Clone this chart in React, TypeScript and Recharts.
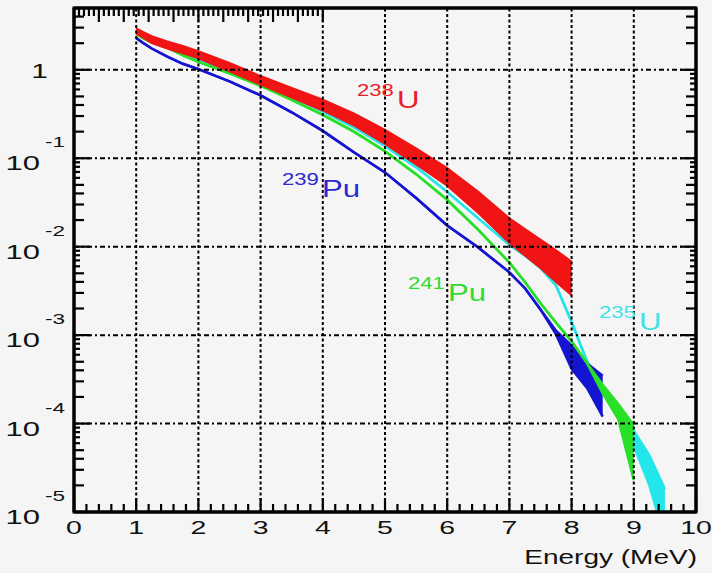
import { Area, ComposedChart, ReferenceLine, XAxis, YAxis } from "recharts";

const WIDTH = 712;
const HEIGHT = 573;
const PLOT_LEFT = 74;
const PLOT_TOP = 8;
const PLOT_RIGHT = 696;
const PLOT_BOTTOM = 512;
const FONT = '"Liberation Sans", Arial, Helvetica, sans-serif';

const RED = "#f01414";
const BLUE = "#1414d2";
const GREEN = "#28e028";
const CYAN = "#22e6ea";

// energy grid (MeV) shared by every spectrum
const ENERGY = [
  1.0, 1.1, 1.25, 1.5, 1.75, 2.0, 2.5, 3.0, 3.5, 4.0, 4.5, 5.0, 5.5, 6.0, 6.5,
  7.0, 7.25, 7.5, 7.75, 8.0, 8.25, 8.5, 8.75, 9.0, 9.25, 9.5
];

// 238U: thick band, upper / lower edge
const U238_HIGH = [
  2.95, 2.7, 2.4, 2.09, 1.86, 1.62, 1.2, 0.85, 0.625, 0.46, 0.322, 0.21,
  0.129, 0.0776, 0.0417, 0.0209, 0.0158, 0.012, 0.00912, 0.00676,
  null, null, null, null, null, null
];
const U238_LOW = [
  2.57, 2.34, 2.0, 1.74, 1.54, 1.35, 0.96, 0.68, 0.485, 0.347, 0.236, 0.145,
  0.0851, 0.049, 0.024, 0.011, 0.00794, 0.00575, 0.00398, 0.00282,
  null, null, null, null, null, null
];

// 235U
const U235_HIGH = [
  2.63, 2.34, 2.09, 1.82, 1.51, 1.29, 0.955, 0.692, 0.49, 0.339, 0.224, 0.138,
  0.0794, 0.0417, 0.0209, 0.0105, 0.00794, 0.00575, 0.00363, 0.00141,
  5.01e-4, 2.51e-4, 1.41e-4, 8.32e-5, 4.37e-5, 1.82e-5
];
const U235_LOW = [
  2.63, 2.34, 2.09, 1.82, 1.51, 1.29, 0.955, 0.692, 0.49, 0.339, 0.224, 0.138,
  0.0794, 0.0417, 0.0209, 0.0105, 0.00794, 0.00575, 0.00363, 0.00141,
  5.01e-4, 2.51e-4, 1.41e-4, 5.62e-5, 2.0e-5, 5.0e-6
];

// 241Pu
const PU241_HIGH = [
  2.57, 2.29, 2.04, 1.78, 1.46, 1.23, 0.912, 0.661, 0.457, 0.309, 0.2, 0.12,
  0.0661, 0.0339, 0.0155, 0.00661, 0.00398, 0.00229, 0.00138, 8.51e-4,
  4.79e-4, 2.75e-4, 1.66e-4, 9.55e-5, null, null
];
const PU241_LOW = [
  2.57, 2.29, 2.04, 1.78, 1.46, 1.23, 0.912, 0.661, 0.457, 0.309, 0.2, 0.12,
  0.0661, 0.0339, 0.0155, 0.00661, 0.00398, 0.00229, 0.00138, 8.51e-4,
  4.79e-4, 2.19e-4, 1.12e-4, 2.29e-5, null, null
];

// 239Pu
const PU239_HIGH = [
  2.29, 2.04, 1.74, 1.41, 1.17, 1.02, 0.741, 0.513, 0.331, 0.204, 0.117,
  0.0692, 0.0355, 0.0174, 0.00977, 0.00513, 0.00339, 0.00195, 0.00112,
  7.59e-4, 4.79e-4, 3.47e-4, null, null, null, null
];
const PU239_LOW = [
  2.29, 2.04, 1.74, 1.41, 1.17, 1.02, 0.741, 0.513, 0.331, 0.204, 0.117,
  0.0692, 0.0355, 0.0174, 0.00977, 0.00513, 0.00339, 0.00195, 0.00102,
  4.17e-4, 2.51e-4, 1.2e-4, null, null, null, null
];

const X_MAJOR = [0, 1, 2, 3, 4, 5, 6, 7, 8, 9, 10];
const X_GRID = [1, 2, 3, 4, 5, 6, 7, 8, 9];
const Y_DECADES = [1e-5, 1e-4, 1e-3, 1e-2, 1e-1, 1];
const Y_GRID = [1e-4, 1e-3, 1e-2, 1e-1, 1];
const Y_MINOR = [2, 3, 4, 5, 6, 7, 8, 9];
const Y_TOP_MINOR = [2, 3, 4];

const band = (hi: (number | null)[], lo: (number | null)[], i: number) =>
  hi[i] == null || lo[i] == null ? null : [lo[i], hi[i]];

const data = ENERGY.map((energy, i) => ({
  energy,
  u238: band(U238_HIGH, U238_LOW, i),
  u235: band(U235_HIGH, U235_LOW, i),
  pu241: band(PU241_HIGH, PU241_LOW, i),
  pu239: band(PU239_HIGH, PU239_LOW, i)
}));

const xTicks = X_MAJOR.flatMap((m) =>
  m < 10 ? [m, m + 0.2, m + 0.4, m + 0.6, m + 0.8] : [m]
);
const yTicks = Y_DECADES.flatMap((d) =>
  d < 1 ? [d, ...Y_MINOR.map((k) => k * d)] : [d, ...Y_TOP_MINOR]
);

const isWhole = (v: number) => Math.abs(v - Math.round(v)) < 1e-6;
const exponentOf = (v: number) => Math.floor(Math.log10(v) + 1e-9);
const mantissaOf = (v: number) => Math.round(v / Math.pow(10, exponentOf(v)));

function xTickLength(v: number) {
  return isWhole(v) ? 14 : 8;
}

function yTickLength(v: number) {
  const m = mantissaOf(v);
  if (m === 1) return 16;
  return m <= 5 ? 10 : 6;
}

function BottomTick(props: any) {
  const { x, payload } = props;
  const v = payload.value as number;
  return (
    <g>
      <line x1={x} x2={x} y1={PLOT_BOTTOM} y2={PLOT_BOTTOM - xTickLength(v)} stroke="#000" strokeWidth={2.2} />
      {isWhole(v) ? (
        <text
          transform={`translate(${x},534) scale(1.5,1)`}
          textAnchor="middle"
          fontSize={19}
          fontFamily={FONT}
          fill="#111"
        >
          {Math.round(v)}
        </text>
      ) : null}
    </g>
  );
}

function TopTick(props: any) {
  const { x, payload } = props;
  const v = payload.value as number;
  return <line x1={x} x2={x} y1={PLOT_TOP} y2={PLOT_TOP + xTickLength(v)} stroke="#000" strokeWidth={2.2} />;
}

function LeftTick(props: any) {
  const { y, payload } = props;
  const v = payload.value as number;
  const isDecade = mantissaOf(v) === 1;
  const exp = exponentOf(v);
  return (
    <g>
      <line x1={PLOT_LEFT} x2={PLOT_LEFT + yTickLength(v)} y1={y} y2={y} stroke="#000" strokeWidth={2.2} />
      {isDecade && exp === 0 ? (
        <text transform={`translate(48,${y + 8}) scale(1.5,1)`} textAnchor="end" fontSize={20} fontFamily={FONT} fill="#111">
          1
        </text>
      ) : null}
      {isDecade && exp < 0 ? (
        <g fontFamily={FONT} fill="#111">
          <text transform={`translate(40,${y + 12}) scale(1.55,1)`} textAnchor="end" fontSize={20}>
            10
          </text>
          <text transform={`translate(45,${y - 11}) scale(1.5,1)`} textAnchor="start" fontSize={15}>
            {exp}
          </text>
        </g>
      ) : null}
    </g>
  );
}

function RightTick(props: any) {
  const { y, payload } = props;
  const v = payload.value as number;
  return <line x1={PLOT_RIGHT} x2={PLOT_RIGHT - yTickLength(v)} y1={y} y2={y} stroke="#000" strokeWidth={2.2} />;
}

function Isotope({ x, y, mass, name, color }: { x: number; y: number; mass: string; name: string; color: string }) {
  return (
    <g fill={color} fontFamily={FONT}>
      <text transform={`translate(${x},${y}) scale(1.3,1)`} fontSize={17}>
        {mass}
      </text>
      <text transform={`translate(${x + mass.length * 13.3},${y + 12}) scale(1.3,1)`} fontSize={24}>
        {name}
      </text>
    </g>
  );
}

const frameLine = { stroke: "#000", strokeWidth: 3 };

export default function App() {
  return (
    <div
      style={{
        position: "absolute",
        left: 0,
        top: 0,
        width: WIDTH,
        height: HEIGHT,
        background: "#f5f5f5"
      }}
    >
      <ComposedChart
        width={WIDTH}
        height={HEIGHT}
        data={data}
        margin={{
          top: PLOT_TOP - 1,
          right: WIDTH - PLOT_RIGHT - 1,
          bottom: HEIGHT - PLOT_BOTTOM - 1,
          left: PLOT_LEFT - 1
        }}
      >
        <XAxis
          dataKey="energy"
          type="number"
          domain={[0, 10]}
          ticks={xTicks}
          interval={0}
          height={1}
          tickSize={0}
          tickMargin={0}
          tickLine={false}
          axisLine={frameLine}
          tick={BottomTick}
        />
        <XAxis
          xAxisId="top"
          orientation="top"
          type="number"
          domain={[0, 10]}
          ticks={xTicks}
          interval={0}
          height={1}
          tickSize={0}
          tickMargin={0}
          tickLine={false}
          axisLine={frameLine}
          tick={TopTick}
        />
        <YAxis
          type="number"
          scale="log"
          domain={[1e-5, 5]}
          allowDataOverflow
          ticks={yTicks}
          interval={0}
          width={1}
          tickSize={0}
          tickMargin={0}
          tickLine={false}
          axisLine={frameLine}
          tick={LeftTick}
        />
        <YAxis
          yAxisId="right"
          orientation="right"
          type="number"
          scale="log"
          domain={[1e-5, 5]}
          allowDataOverflow
          ticks={yTicks}
          interval={0}
          width={1}
          tickSize={0}
          tickMargin={0}
          tickLine={false}
          axisLine={frameLine}
          tick={RightTick}
        />
        {X_GRID.map((g) => (
          <ReferenceLine key={`vx${g}`} x={g} stroke="#000" strokeWidth={2} strokeDasharray="3 2.5" />
        ))}
        {Y_GRID.map((g) => (
          <ReferenceLine key={`hy${g}`} y={g} stroke="#000" strokeWidth={2} strokeDasharray="5 3 2 3" />
        ))}
        <Area dataKey="u235" type="linear" stroke={CYAN} strokeWidth={2.5} fill={CYAN} fillOpacity={1} dot={false} activeDot={false} isAnimationActive={false} />
        <Area dataKey="pu239" type="linear" stroke={BLUE} strokeWidth={2.5} fill={BLUE} fillOpacity={1} dot={false} activeDot={false} isAnimationActive={false} />
        <Area dataKey="pu241" type="linear" stroke={GREEN} strokeWidth={2.5} fill={GREEN} fillOpacity={1} dot={false} activeDot={false} isAnimationActive={false} />
        <Area dataKey="u238" type="linear" stroke={RED} strokeWidth={2} fill={RED} fillOpacity={1} dot={false} activeDot={false} isAnimationActive={false} />
      </ComposedChart>
      <svg
        width={WIDTH}
        height={HEIGHT}
        style={{ position: "absolute", left: 0, top: 0, pointerEvents: "none" }}
      >
        <rect
          x={PLOT_LEFT}
          y={PLOT_TOP}
          width={PLOT_RIGHT - PLOT_LEFT}
          height={PLOT_BOTTOM - PLOT_TOP}
          fill="none"
          stroke="#000"
          strokeWidth={3}
        />
        <Isotope x={357} y={96} mass="238" name="U" color="#e8202a" />
        <Isotope x={282} y={185} mass="239" name="Pu" color="#2a2ad0" />
        <Isotope x={408} y={289} mass="241" name="Pu" color="#30dc30" />
        <Isotope x={599} y={318} mass="235" name="U" color="#40e2ea" />
        <text
          transform="translate(697,564) scale(1.4,1)"
          textAnchor="end"
          fontSize={20}
          fontFamily={FONT}
          fill="#111"
        >
          Energy (MeV)
        </text>
      </svg>
    </div>
  );
}
